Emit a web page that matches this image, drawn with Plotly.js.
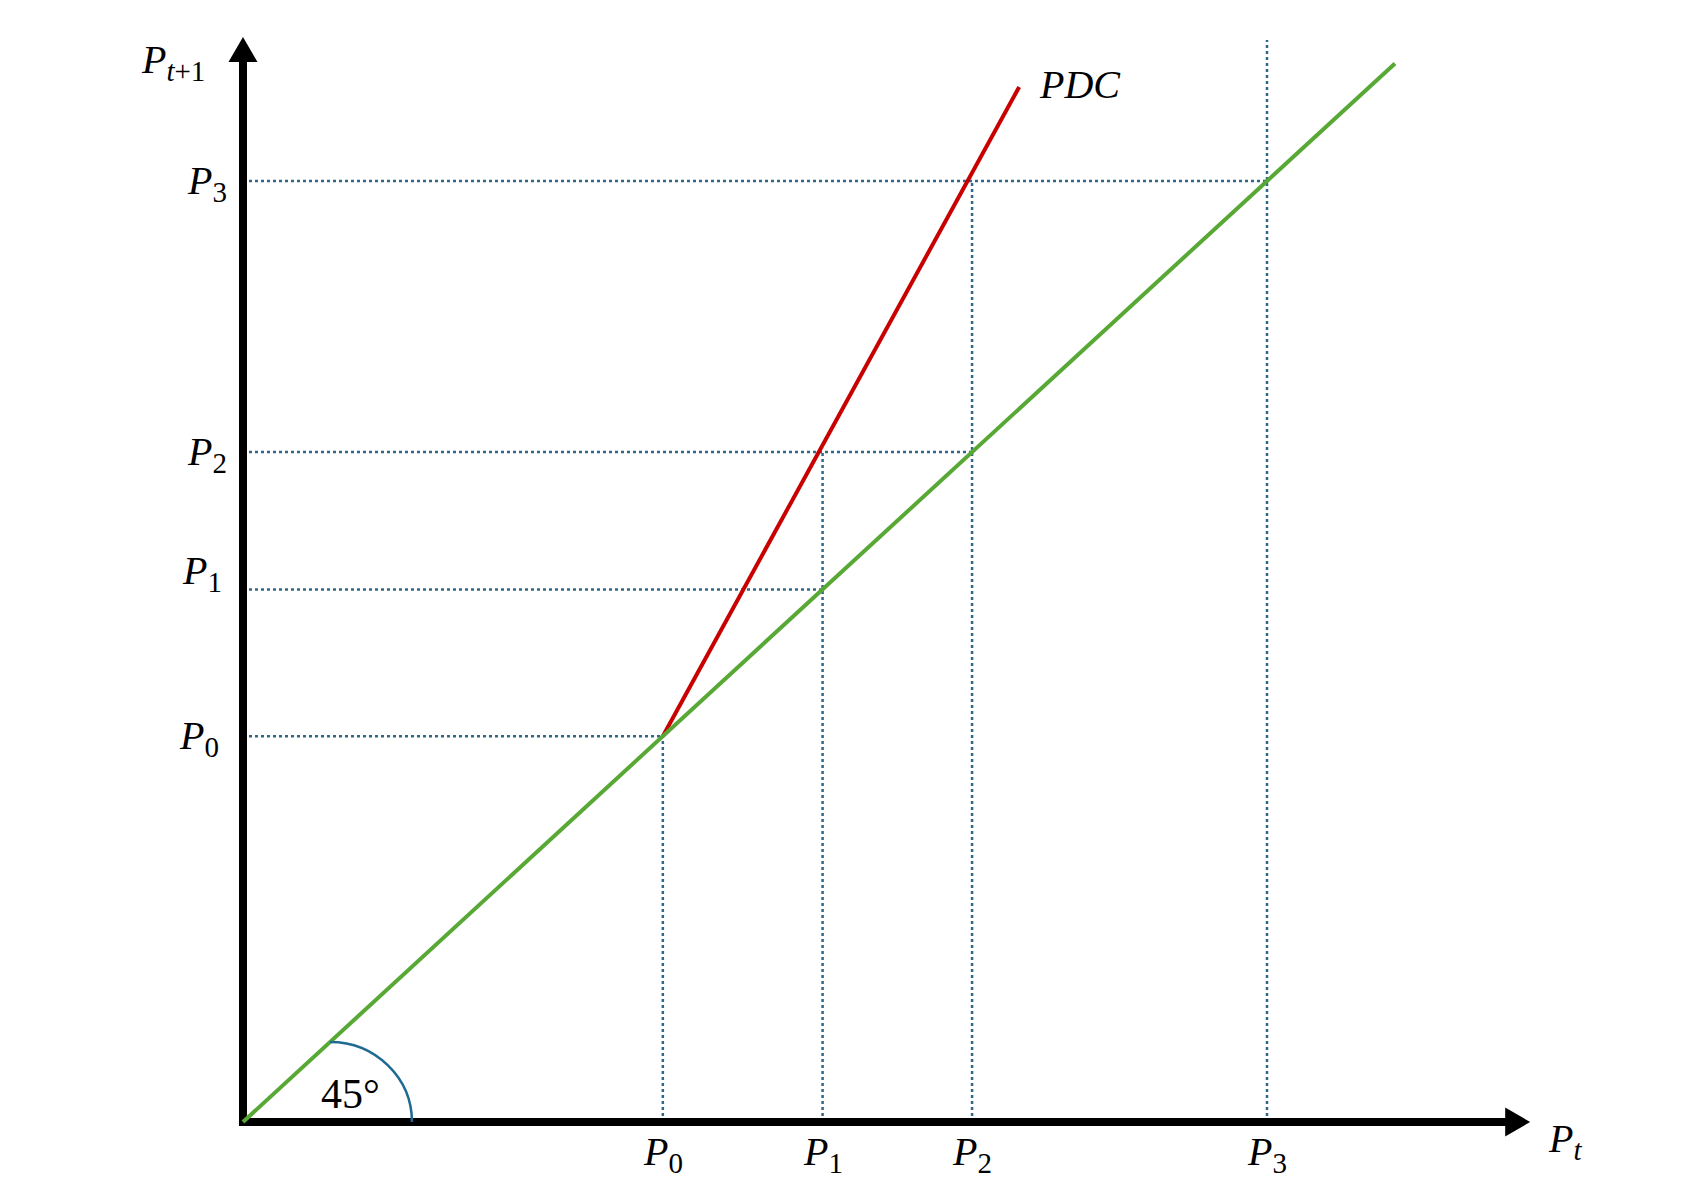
<!DOCTYPE html>
<html>
<head>
<meta charset="utf-8">
<script src="https://cdn.plot.ly/plotly-3.0.1.min.js"></script>
<style>html,body{margin:0;padding:0;background:#fff;}#chart{width:1707px;height:1178px;}</style>
</head>
<body>
<div id="chart"></div>
<script>
// ---- data (data units: 45-degree line is y = x) ----
const levelNames = ['0', '1', '2', '3'];          // subscripts of the price levels
const priceLevels = [4.1, 5.66, 7.12, 10.0];      // P0..P3 on both axes
const verticalTops = [4.1, 7.12, 10.0, 11.5];     // how high each vertical guide rises
const lineX = [0, 11.25];                         // 45-degree line
const lineY = [0, 11.25];
const pdcX = [4.1, 5.62, 7.07, 7.58];             // PDC line
const pdcY = [4.1, 7.12, 10.0, 11.0];

// ---- layout constants ----
const W = 1707, H = 1178;
const X_RANGE = [-2.373, 14.297];
const Y_RANGE = [-0.595, 11.924];
const kx = W / (X_RANGE[1] - X_RANGE[0]);
const ky = H / (Y_RANGE[1] - Y_RANGE[0]);
const px2dx = p => p / kx;
const px2dy = p => p / ky;

const axisTipX = 12.57, axisTipY = 11.53;
const headLen = 25, headHalf = 14.5;
const baseX = axisTipX - px2dx(headLen);
const baseY = axisTipY - px2dy(headLen);

// per-label pixel nudges of the y-axis labels, as placed in the reference
const yLabelDX = [-22, -19, -14, -14];
const yLabelDY = [-2, 16, -2, -2];

const dotColor = '#2f6888';
const arcColor = '#1f6a92';
const font = '"Liberation Serif", "Times New Roman", serif';
const FS = 40;
const SUB = 29;
const sub = s => '<sub><span style="font-size:' + SUB + 'px">' + s + '</span></sub>';

// dotted guides
const gx = [], gy = [];
priceLevels.forEach((p, i) => {
  gx.push(0, p, null); gy.push(p, p, null);
  gx.push(p, p, null); gy.push(0, verticalTops[i], null);
});

const traces = [
  {x: gx, y: gy, mode: 'lines', line: {color: dotColor, width: 2.5, dash: 'dot'}, hoverinfo: 'skip'},
  {x: [0, 0, baseX + px2dx(2)], y: [baseY + px2dy(2), 0, 0], mode: 'lines', line: {color: '#000', width: 8}, hoverinfo: 'skip'},
  {x: pdcX, y: pdcY, mode: 'lines', line: {color: '#c80000', width: 4}, hoverinfo: 'skip'},
  {x: lineX, y: lineY, mode: 'lines', line: {color: '#58a835', width: 4}, hoverinfo: 'skip'}
];

// 45 degree arc
const cx = 0.85, rx = 0.80, ry = 0.85, kb = 0.5523;
const arcPath = `M ${cx},${ry} C ${cx + kb * rx},${ry} ${cx + rx},${kb * ry} ${cx + rx},0`;

// arrow heads
const hx = px2dx(headHalf), hy = px2dy(headHalf);
const upHead = `M ${-hx},${baseY} L ${hx},${baseY} L 0,${axisTipY} Z`;
const rightHead = `M ${baseX},${-hy} L ${baseX},${hy} L ${axisTipX},0 Z`;

const tf = {family: font, size: FS, color: '#000'};
const annotations = [];
priceLevels.forEach((p, i) => {
  const t = '<i>P</i>' + sub(levelNames[i]);
  annotations.push({x: 0, y: p, xref: 'x', yref: 'y', text: t, showarrow: false,
    xanchor: 'right', yanchor: 'middle', xshift: yLabelDX[i], yshift: yLabelDY[i], font: tf});
  annotations.push({x: p, y: 0, xref: 'x', yref: 'y', text: t, showarrow: false,
    xanchor: 'center', yanchor: 'top', yshift: -5, font: tf});
});
annotations.push({x: axisTipX, y: 0, xref: 'x', yref: 'y', text: '<i>P</i>' + sub('<i>t</i>'), showarrow: false,
  xanchor: 'left', yanchor: 'top', xshift: 16, yshift: 8, font: tf});
annotations.push({x: 0, y: axisTipY, xref: 'x', yref: 'y', text: '<i>P</i>' + sub('<i>t</i>+1'), showarrow: false,
  xanchor: 'right', yanchor: 'top', xshift: -36, yshift: 2, font: tf});
annotations.push({x: pdcX[pdcX.length - 1], y: pdcY[pdcY.length - 1], xref: 'x', yref: 'y', text: '<i>PDC</i>', showarrow: false,
  xanchor: 'left', yanchor: 'middle', xshift: 18, yshift: 2, font: tf});
annotations.push({x: 1.045, y: 0.30, xref: 'x', yref: 'y', text: '45°', showarrow: false,
  xanchor: 'center', yanchor: 'middle', font: {family: font, size: 42, color: '#000'}});

const layout = {
  width: W, height: H,
  margin: {l: 0, r: 0, t: 0, b: 0, pad: 0},
  paper_bgcolor: '#fff', plot_bgcolor: '#fff',
  showlegend: false,
  xaxis: {range: X_RANGE, visible: false, fixedrange: true},
  yaxis: {range: Y_RANGE, visible: false, fixedrange: true},
  shapes: [
    {type: 'path', path: arcPath, xref: 'x', yref: 'y', line: {color: arcColor, width: 2.5}},
    {type: 'path', path: upHead, xref: 'x', yref: 'y', fillcolor: '#000', line: {width: 0}},
    {type: 'path', path: rightHead, xref: 'x', yref: 'y', fillcolor: '#000', line: {width: 0}}
  ],
  annotations: annotations
};

Plotly.newPlot('chart', traces, layout, {displayModeBar: false, staticPlot: true});
</script>
</body>
</html>
